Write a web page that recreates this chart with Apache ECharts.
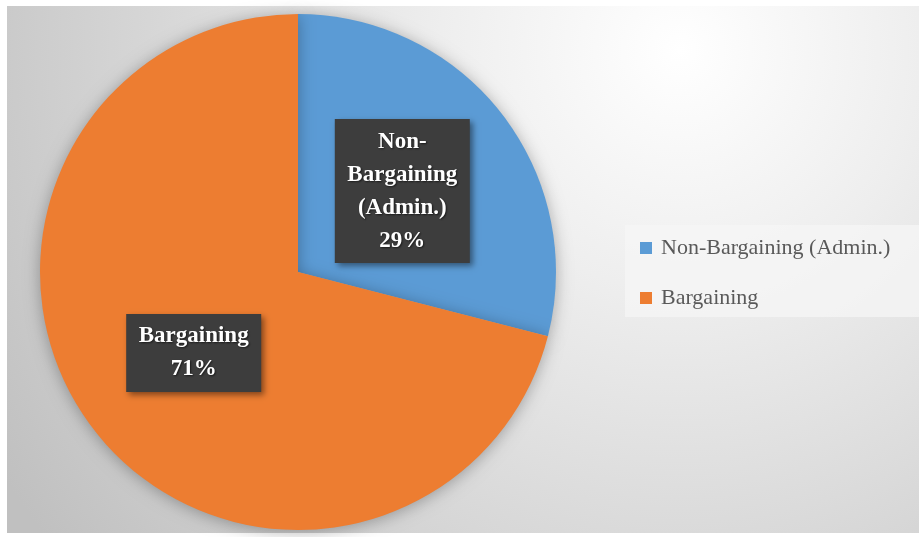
<!DOCTYPE html>
<html>
<head>
<meta charset="utf-8">
<script src="https://cdn.jsdelivr.net/npm/echarts@6/dist/echarts.min.js"></script>
<style>
html,body{margin:0;padding:0;background:#fff;}
#chart{width:919px;height:537px;}
</style>
</head>
<body>
<div id="chart"></div>
<script>
var categories = ['Non-Bargaining (Admin.)', 'Bargaining'];
var values = [29, 71];
var sliceLabels = ['Non-\nBargaining\n(Admin.)', 'Bargaining'];
var colors = ['#5B9BD5', '#ED7D31'];

var chart = echarts.init(document.getElementById('chart'), null, {renderer: 'canvas'});
var data = categories.map(function (c, i) {
  return {name: c, value: values[i], itemStyle: {color: colors[i]}};
});

chart.setOption({
  backgroundColor: '#ffffff',
  animation: false,
  graphic: [
    {
      type: 'rect', z: -10,
      shape: {x: 7, y: 6, width: 912, height: 527},
      style: {
        fill: {
          type: 'radial', x: 680, y: 50, r: 800, global: true,
          colorStops: [
            {offset: 0, color: '#ffffff'},
            {offset: 0.3, color: '#eeeeee'},
            {offset: 1, color: '#c0c0c0'}
          ]
        }
      }
    },
    {
      type: 'rect', z: -5,
      shape: {x: 625, y: 225, width: 294, height: 92},
      style: {fill: 'rgba(245,245,245,0.75)'}
    }
  ],
  legend: {
    orient: 'vertical',
    left: 640,
    top: 236,
    itemWidth: 12,
    itemHeight: 12,
    itemGap: 26,
    padding: 0,
    icon: 'rect',
    data: categories,
    textStyle: {
      fontFamily: 'Liberation Serif',
      fontSize: 22,
      lineHeight: 24,
      color: '#595959',
      padding: [0, 0, 0, 4]
    }
  },
  series: [{
    type: 'pie',
    center: [298, 272],
    radius: 258,
    startAngle: 90,
    clockwise: true,
    data: data,
    itemStyle: {
      borderWidth: 0,
      shadowBlur: 16,
      shadowColor: 'rgba(0,0,0,0.3)',
      shadowOffsetY: 2
    },
    label: {
      show: true,
      position: 'inside',
      formatter: function (p) {
        return sliceLabels[p.dataIndex] + '\n' + Math.round(p.percent) + '%';
      },
      color: '#ffffff',
      fontFamily: 'Liberation Serif',
      fontWeight: 'bold',
      fontSize: 23,
      lineHeight: 33,
      align: 'center',
      width: 115,
      backgroundColor: '#3d3d3d',
      padding: [6, 10],
      shadowBlur: 6,
      shadowOffsetX: 3,
      shadowOffsetY: 3,
      shadowColor: 'rgba(0,0,0,0.45)',
      textShadowColor: 'rgba(0,0,0,0.6)',
      textShadowBlur: 2,
      textShadowOffsetX: 1,
      textShadowOffsetY: 1
    },
    labelLine: {show: false},
    emphasis: {disabled: true}
  }]
});
</script>
</body>
</html>
